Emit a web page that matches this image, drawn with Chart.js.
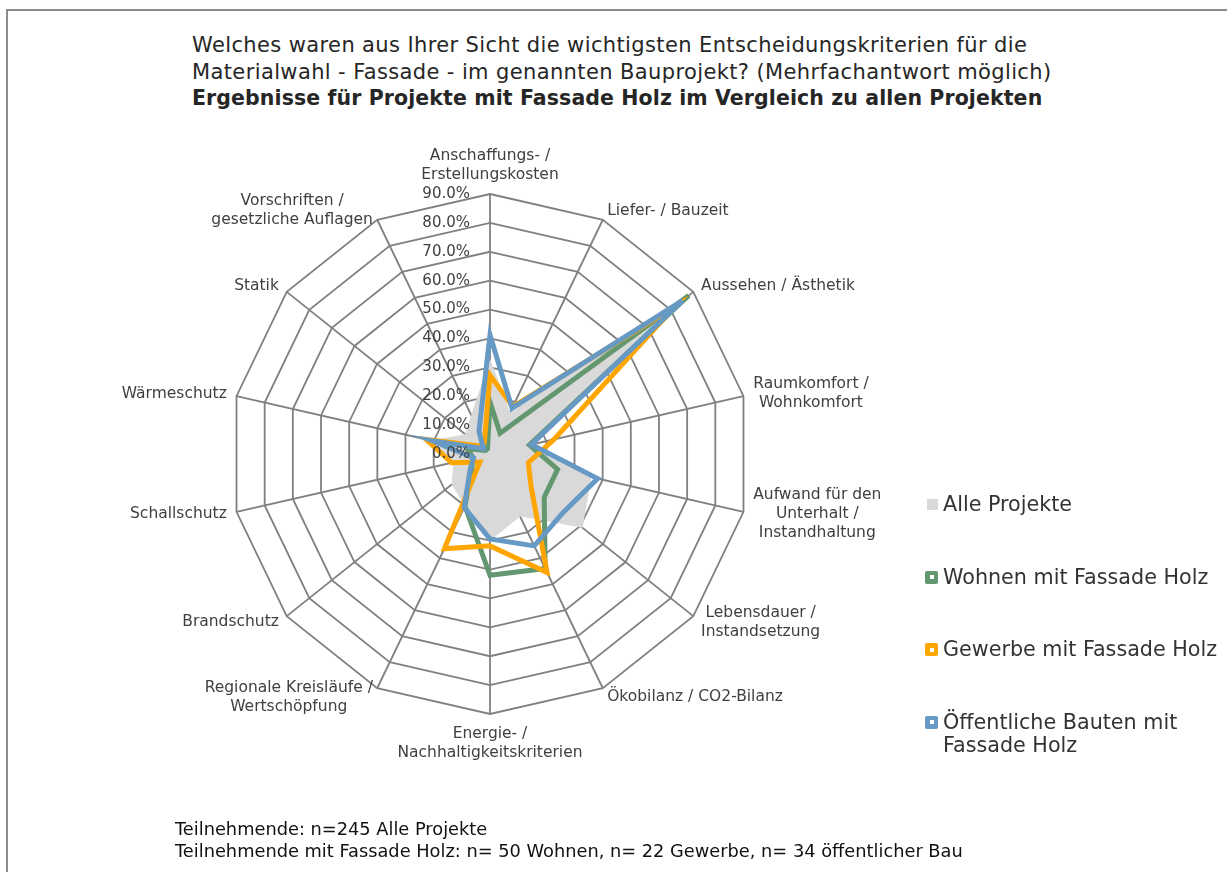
<!DOCTYPE html>
<html>
<head>
<meta charset="utf-8">
<script src="https://cdn.jsdelivr.net/npm/chart.js"></script>
<style>
  body { margin: 0; background: #fff; font-family: "DejaVu Sans", sans-serif; }
  #frame { position: absolute; left: 6px; top: 9px; width: 1300px; height: 1000px;
           border-left: 2px solid #8c8c8c; border-top: 2px solid #8c8c8c; }
  #title { position: absolute; left: 192px; top: 32px; font-size: 21px; line-height: 26.5px;
           letter-spacing: 0.38px; color: #262626; white-space: nowrap; }
  #title b { font-size: 20.5px; letter-spacing: 0.1px; }
  #radar { position: absolute; left: 0; top: 0; }
  #legend { position: absolute; left: 925px; top: 493px; }
  .item { position: absolute; left: 0; width: 300px; font-size: 20.7px; line-height: 23px;
          color: #333; white-space: pre; }
  .item span.txt { position: absolute; left: 18px; top: 0; }
  .mark { position: absolute; }
  .mark i { position: absolute; left: 4.5px; top: 4.5px; width: 4px; height: 4px; background: #fff; }
  #note { position: absolute; left: 175px; top: 818px; font-size: 17.8px; line-height: 22px;
          color: #111; white-space: nowrap; }
</style>
</head>
<body>
<div id="frame"></div>
<div id="title">
  Welches waren aus Ihrer Sicht die wichtigsten Entscheidungskriterien für die<br>
  Materialwahl - Fassade - im genannten Bauprojekt? (Mehrfachantwort möglich)<br>
  <b>Ergebnisse für Projekte mit Fassade Holz im Vergleich zu allen Projekten</b>
</div>
<canvas id="radar" width="1227" height="872"></canvas>
<div id="legend"></div>
<div id="note">
  Teilnehmende: n=245 Alle Projekte<br>
  Teilnehmende mit Fassade Holz: n= 50 Wohnen, n= 22 Gewerbe, n= 34 öffentlicher Bau
</div>
<script>
// criteria (one array of lines per axis)
const criteria = [
  ['Anschaffungs- /', 'Erstellungskosten'],
  ['Liefer- / Bauzeit'],
  ['Aussehen / Ästhetik'],
  ['Raumkomfort /', 'Wohnkomfort'],
  ['Aufwand für den', 'Unterhalt /', 'Instandhaltung'],
  ['Lebensdauer /', 'Instandsetzung'],
  ['Ökobilanz / CO2-Bilanz'],
  ['Energie- /', 'Nachhaltigkeitskriterien'],
  ['Regionale Kreisläufe /', 'Wertschöpfung'],
  ['Brandschutz'],
  ['Schallschutz'],
  ['Wärmeschutz'],
  ['Statik'],
  ['Vorschriften /', 'gesetzliche Auflagen']
];

// share of answers in %
const alleProjekte = [33, 16, 80, 13, 36, 41, 24, 30, 20, 17, 13, 21, 11, 15];
const wohnenHolz   = [18, 8, 88, 14, 24, 24, 44, 42, 20, 8, 6, 8, 2, 2];
const gewerbeHolz  = [27.3, 18.2, 81.8, 22.7, 13.6, 18.2, 45.5, 31.8, 36.4, 4.5, 13.6, 22.7, 4.5, 4.5];
const oeffentlHolz = [41.2, 17.6, 85.3, 14.7, 38.2, 32.4, 35.3, 29.4, 20.6, 8.8, 5.9, 20.6, 2.9, 8.8];

const seriesNames = ['Alle Projekte', 'Wohnen mit Fassade Holz', 'Gewerbe mit Fassade Holz',
                     'Öffentliche Bauten mit\nFassade Holz'];
const seriesColors = ['#d9d9d9', '#63976f', '#ffa500', '#6699c4'];

// axis 0 % .. 90 %, step 10
const scaleMax = 90;
const scaleStep = 10;

// ticks and criteria text, drawn from the radial scale
const axisText = {
  id: 'axisText',
  afterDatasetsDraw(chart) {
    const r = chart.scales.r;
    const ctx = chart.ctx;
    ctx.save();
    ctx.fillStyle = '#404040';
    ctx.textBaseline = 'middle';

    ctx.font = '15px "DejaVu Sans"';
    ctx.textAlign = 'right';
    r.ticks.forEach(t => {
      const y = r.yCenter - r.getDistanceFromCenterForValue(t.value);
      ctx.fillText(t.value.toFixed(1) + '%', r.xCenter - 20, y);
    });

    ctx.font = '15.5px "DejaVu Sans"';
    ctx.textAlign = 'center';
    const lh = 19;
    chart.data.labels.forEach((lines, i) => {
      const p = r.getPointPosition(i, r.drawingArea + 10);
      const w = Math.max(...lines.map(s => ctx.measureText(s).width));
      const h = lines.length * lh;
      const deg = Math.round(r.getIndexAngle(i) * 180 / Math.PI);
      let cx = p.x, top = p.y - h / 2;
      if (deg === 0) top = p.y - h;
      else if (deg === 180) top = p.y;
      else if (deg < 180) cx = p.x + w / 2;
      else cx = p.x - w / 2;
      lines.forEach((s, k) => ctx.fillText(s, cx, top + lh * k + lh / 2));
    });
    ctx.restore();
  }
};

const lineSet = (i, data, order) => ({
  label: seriesNames[i],
  data: data,
  borderColor: seriesColors[i],
  borderWidth: 5,
  borderJoinStyle: 'miter',
  fill: false,
  pointRadius: 0,
  order: order
});

const ctx = document.getElementById('radar');
const chart = new Chart(ctx, {
  type: 'radar',
  data: {
    labels: criteria,
    datasets: [
      {
        label: seriesNames[0],
        data: alleProjekte,
        backgroundColor: seriesColors[0],
        borderWidth: 0,
        fill: true,
        pointRadius: 0,
        order: 4
      },
      lineSet(1, wohnenHolz, 3),
      lineSet(2, gewerbeHolz, 2),
      lineSet(3, oeffentlHolz, 1)
    ]
  },
  options: {
    responsive: false,
    animation: false,
    devicePixelRatio: 1,
    events: [],
    layout: { padding: { left: 230, top: 194, right: 477, bottom: 158 } },
    plugins: { legend: { display: false }, tooltip: { enabled: false } },
    scales: {
      r: {
        min: 0,
        max: scaleMax,
        ticks: { stepSize: scaleStep, display: false },
        grid: { color: '#808080', lineWidth: 1.8 },
        angleLines: { color: '#808080', lineWidth: 1.8 },
        pointLabels: { display: false }
      }
    }
  },
  plugins: [axisText]
});

// legend next to the chart
const legend = document.getElementById('legend');
chart.data.datasets.forEach((ds, i) => {
  const item = document.createElement('div');
  item.className = 'item';
  item.style.top = (i * 72.5) + 'px';
  const mark = document.createElement('div');
  mark.className = 'mark';
  if (i === 0) {
    Object.assign(mark.style, { left: '2px', top: '6px', width: '11px', height: '11px', background: ds.backgroundColor });
  } else {
    Object.assign(mark.style, { left: '0px', top: '5px', width: '13px', height: '13px', borderRadius: '2px', background: ds.borderColor });
    mark.appendChild(document.createElement('i'));
  }
  const txt = document.createElement('span');
  txt.className = 'txt';
  txt.textContent = ds.label;
  item.appendChild(mark);
  item.appendChild(txt);
  legend.appendChild(item);
});
</script>
</body>
</html>
